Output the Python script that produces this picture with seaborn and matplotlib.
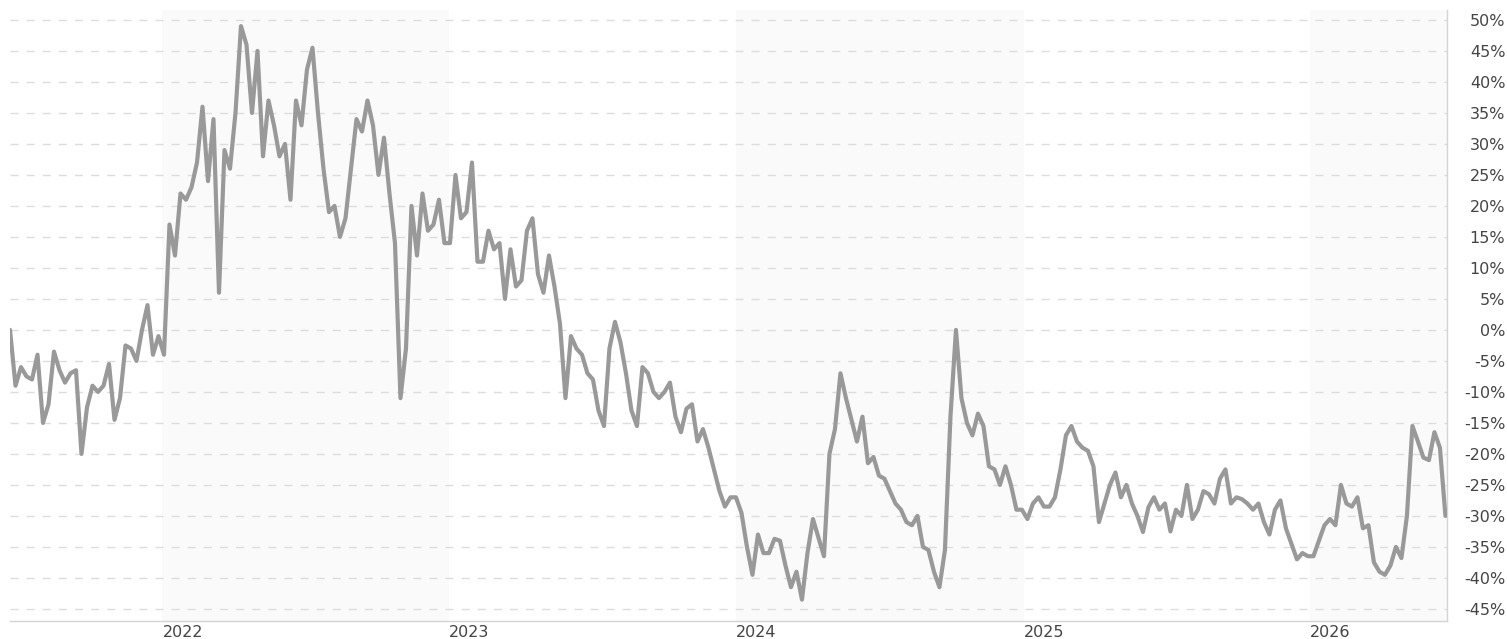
import matplotlib
matplotlib.use("Agg")
import matplotlib.pyplot as plt
import matplotlib.dates as mdates
import pandas as pd
import seaborn as sns

LINE = "#999999"
GRID = "#dddddd"
BAND = "#fafafa"
SPINE = "#d4d4d4"
TEXT = "#444444"

# weekly closes, % change vs. start
start_date = "2021-06-21"
values = [
    0, -9, -6, -7.5, -8, -4, -15, -12, -3.5, -6.5,
    -8.5, -7, -6.5, -20, -12.5, -9, -10, -9, -5.5, -14.5,
    -11, -2.5, -3, -5, 0, 4, -4, -1, -4, 17,
    12, 22, 21, 23, 27, 36, 24, 34, 6, 29,
    26, 35, 49, 46, 35, 45, 28, 37, 33, 28,
    30, 21, 37, 33, 42, 45.5, 35, 26, 19, 20,
    15, 18, 26, 34, 32, 37, 33, 25, 31, 22,
    14, -11, -3, 20, 12, 22, 16, 17, 21, 14,
    14, 25, 18, 19, 27, 11, 11, 16, 13, 14,
    5, 13, 7, 8, 16, 18, 9, 6, 12, 7,
    1, -11, -1, -3, -4, -7, -8, -13, -15.5, -3,
    1.3, -2, -7, -13, -15.5, -6, -7, -10, -11, -10,
    -8.5, -14, -16.5, -12.7, -12, -18, -16, -19, -22.5, -26,
    -28.5, -27, -27, -29.5, -35, -39.5, -33, -36, -36, -33.7,
    -34, -38, -41.5, -39, -43.5, -36, -30.5, -33.5, -36.5, -20,
    -16, -7, -11, -14.5, -18, -14, -21.5, -20.5, -23.5, -24,
    -26, -28, -29, -31, -31.5, -30, -35, -35.5, -39, -41.5,
    -35.5, -14, 0, -11, -15, -17, -13.5, -15.5, -22, -22.5,
    -25, -22, -25, -29, -29, -30.5, -28, -27, -28.5, -28.5,
    -27, -22.5, -17, -15.5, -18, -19, -19.5, -22, -31, -28,
    -25, -23, -27, -25, -28, -30, -32.6, -28.6, -27, -29,
    -28, -32.5, -29, -30, -25, -30.5, -29, -26, -26.5, -28,
    -24, -22.5, -28, -27, -27.3, -28, -29, -28, -31, -33,
    -29, -27.5, -32, -34.5, -37, -36, -36.5, -36.5, -34, -31.5,
    -30.5, -31.5, -25, -28, -28.5, -27, -32, -31.5, -37.5, -39,
    -39.5, -38, -35, -36.8, -30, -15.5, -18, -20.6, -21, -16.5,
    -19, -30,
]
band_years = [2022, 2024, 2026]
y_ticks = list(range(-45, 55, 5))

df = pd.DataFrame({
    "date": pd.date_range(start_date, periods=len(values), freq="7D"),
    "value": values,
})

sns.set_style("white")
plt.rcParams["font.family"] = ["DejaVu Sans"]

fig = plt.figure(figsize=(15.07, 6.39), dpi=100)
ax = fig.add_axes([10 / 1507, 18 / 639, 1437 / 1507, 611 / 639])

x_min = pd.Timestamp("2021-06-21")
x_max = pd.Timestamp("2026-06-24")

for yr in band_years:
    ax.axvspan(pd.Timestamp(f"{yr}-01-01"), pd.Timestamp(f"{yr + 1}-01-01"),
               color=BAND, lw=0, zorder=0.1)

sns.lineplot(data=df, x="date", y="value", ax=ax, color=LINE, linewidth=3.0, zorder=3)

ax.set_xlim(x_min, x_max)
ax.set_ylim(-46.95, 51.6)

ax.set_axisbelow(True)
ax.grid(axis="y", color=GRID, linewidth=1.0, linestyle=(0, (5.8, 5.8)))
ax.grid(axis="x", visible=False)

ax.set_yticks(y_ticks)
ax.set_yticklabels([f"{t}%" for t in y_ticks])
ax.yaxis.tick_right()
ax.tick_params(axis="y", length=0, pad=42, labelsize=11.5, labelcolor=TEXT)
for lab in ax.get_yticklabels():
    lab.set_horizontalalignment("right")

ax.xaxis.set_major_locator(mdates.YearLocator())
ax.xaxis.set_major_formatter(mdates.DateFormatter("%Y"))
ax.tick_params(axis="x", length=0, pad=3, labelsize=11.5, labelcolor=TEXT)
for lab in ax.get_xticklabels():
    lab.set_horizontalalignment("left")

ax.set_xlabel("")
ax.set_ylabel("")
for side in ["left", "top"]:
    ax.spines[side].set_visible(False)
for side in ["bottom", "right"]:
    ax.spines[side].set_color(SPINE)
    ax.spines[side].set_linewidth(1.0)

fig.savefig("out.png", dpi=100)
